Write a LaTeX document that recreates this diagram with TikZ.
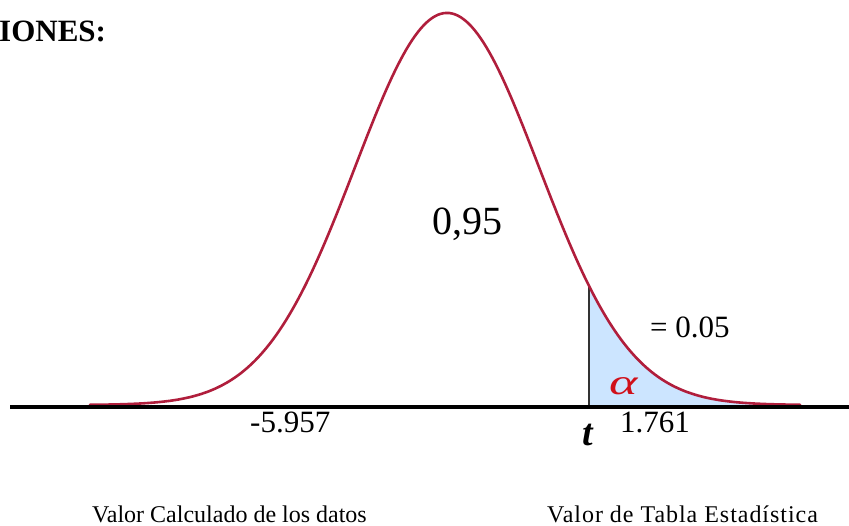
\documentclass[tikz,border=0pt]{standalone}
\usepackage{fontspec}
\usepackage{graphicx}
\setmainfont{Liberation Serif}
\definecolor{curvered}{HTML}{B01E3C}
\definecolor{areablue}{HTML}{CCE5FF}
\definecolor{alphared}{HTML}{D0101A}
\begin{document}
\begin{tikzpicture}[x=1pt,y=-1pt,
  lbl/.style={inner sep=0pt, anchor=base west},
  declare function={g(\t)=405-392*exp(-((\t-447)/92)^2/2);}]
\useasboundingbox (0,0) rectangle (849,526);
% shaded tail
\fill[areablue] (589,407) -- plot[domain=589:800,samples=80] (\x,{g(\x)}) -- (800,407) -- cycle;
% vertical critical line
\coordinate (vb) at (589,407);
\coordinate (vt) at (589,{g(589)});
\draw[black!80, line width=2pt] (vb) -- (vt);
% curve
\draw[curvered, line width=2.6pt, line cap=round] plot[domain=90:800, samples=250] (\x,{g(\x)});
% axis
\coordinate (axl) at (10,407);
\coordinate (axr) at (849,407);
\draw[black, line width=3.5pt] (axl) -- (axr);
% texts
\node[lbl, font=\fontsize{31}{37}\selectfont\bfseries] (title) at (-1,42) {IONES:};
\node[lbl, font=\fontsize{40}{48}\selectfont] (p95) at (432,235) {0,95};
\node[lbl, font=\fontsize{31}{37}\selectfont] (p05) at (650,338) {= 0.05};
\node[lbl, font=\fontsize{31}{37}\selectfont] (lv) at (250,433) {-5.957};
\node[lbl, font=\fontsize{31}{37}\selectfont] (rv) at (620,432) {1.761};
\node[anchor=base, inner sep=0pt, font=\fontsize{38}{44}\selectfont\bfseries\itshape] (tl) at (588,446) {t};
\node[lbl, text=alphared, font=\fontsize{36}{42}\selectfont\itshape] (alp) at (609,395) {\scalebox{1.5}[1]{α}};
\node[lbl, font=\fontsize{24}{29}\selectfont] (bl) at (92,522) {Valor Calculado de los datos};
\node[lbl, font=\fontsize{24}{29}\selectfont\addfontfeature{LetterSpace=4}] (br) at (547,522) {Valor de Tabla Estadística};
\end{tikzpicture}
\end{document}
